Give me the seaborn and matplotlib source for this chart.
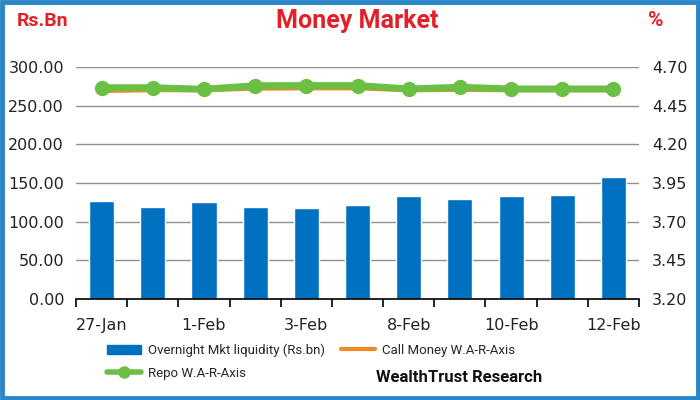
import matplotlib
matplotlib.use("Agg")
import matplotlib.pyplot as plt
import matplotlib.patches as mpatches
from matplotlib.lines import Line2D
from matplotlib.ticker import FixedLocator, NullFormatter
import numpy as np
import pandas as pd
import seaborn as sns

dates = ["27-Jan", "28-Jan", "1-Feb", "2-Feb", "3-Feb", "5-Feb",
         "8-Feb", "9-Feb", "10-Feb", "11-Feb", "12-Feb"]
liquidity = [126.8, 119.4, 125.0, 119.4, 117.3, 121.6, 133.0, 129.4, 133.0, 135.0, 158.0]
call_money = [4.545, 4.550, 4.550, 4.560, 4.562, 4.562, 4.550, 4.552, 4.550, 4.550, 4.550]
repo = [4.566, 4.566, 4.556, 4.579, 4.580, 4.580, 4.558, 4.569, 4.558, 4.558, 4.558]
left_ticks = [0, 50, 100, 150, 200, 250, 300]
right_ticks = [3.20, 3.45, 3.70, 3.95, 4.20, 4.45, 4.70]

BLUE = "#0070C0"
GREEN = "#6CBF45"
ORANGE = "#F08A24"
RED = "#E3202A"
narrow = ["Roboto", "DejaVu Sans"]

sns.set_theme(style="white")
plt.rcParams["font.family"] = ["DejaVu Sans"]

df = pd.DataFrame({"date": dates, "liq": liquidity, "call": call_money,
                   "repo": repo, "pos": np.arange(len(dates))})

fig = plt.figure(figsize=(7, 4), dpi=100)
ax = fig.add_axes([0.1086, 0.2525, 0.8043, 0.58])

sns.barplot(data=df, x="date", y="liq", color=BLUE, width=0.49,
            saturation=1, ax=ax, zorder=3)
ax.set_xlim(-0.5, len(dates) - 0.5)
ax.set_ylim(0, 300)
ax.set_yticks(left_ticks)
ax.set_yticklabels([f"{v:.2f}" for v in left_ticks], fontsize=11.5, color="#222222")
ax.yaxis.grid(True, color="#8f8f8f", linewidth=1.0, zorder=0)
ax.set_axisbelow(True)
ax.set_xlabel("")
ax.set_ylabel("")
for s in ["top", "left", "right"]:
    ax.spines[s].set_visible(False)
ax.spines["bottom"].set_color("black")
ax.spines["bottom"].set_linewidth(1.2)
ax.spines["bottom"].set_zorder(5)

major = list(range(0, len(dates), 2))
ax.set_xticks(major)
ax.set_xticklabels([dates[i] for i in major], fontsize=11.5, color="#222222")
ax.tick_params(axis="x", which="major", length=0, pad=14)
ax.xaxis.set_minor_locator(FixedLocator(np.arange(-0.5, len(dates), 1.0)))
ax.xaxis.set_minor_formatter(NullFormatter())
ax.tick_params(axis="x", which="minor", length=6, width=1.2, color="black",
               direction="out", bottom=True)
ax.tick_params(axis="y", length=0, pad=8.6)

ax2 = ax.twinx()
sns.lineplot(data=df, x="pos", y="call", color=ORANGE, linewidth=3, ax=ax2,
             zorder=4)
sns.lineplot(data=df, x="pos", y="repo", color=GREEN, linewidth=5, marker="o",
             markersize=11, markeredgewidth=0, ax=ax2, zorder=5)
ax2.set_ylim(3.20, 4.70)
ax2.set_yticks(right_ticks)
ax2.set_yticklabels([f"{v:.2f}" for v in right_ticks], fontsize=11.5, color="#222222")
ax2.tick_params(axis="y", length=0, pad=9.4)
ax2.set_xlim(-0.5, len(dates) - 0.5)
ax2.set_xlabel("")
ax2.set_ylabel("")
ax2.grid(False)
for s in ["top", "left", "right", "bottom"]:
    ax2.spines[s].set_visible(False)

fig.text(0.51, 0.948, "Money Market", ha="center", va="center", color=RED,
         fontsize=18, fontweight="bold", family=narrow)
fig.text(0.024, 0.948, "Rs.Bn", ha="left", va="center", color=RED,
         fontsize=14, fontweight="bold", family=narrow)
fig.text(0.937, 0.948, "%", ha="center", va="center", color=RED,
         fontsize=15, fontweight="bold", family=narrow)

handles = [
    mpatches.Patch(color=BLUE, label="Overnight Mkt liquidity (Rs.bn)"),
    Line2D([], [], color=GREEN, linewidth=4, marker="o", markersize=8,
           label="Repo W.A-R-Axis"),
    Line2D([], [], color=ORANGE, linewidth=3, label="Call Money W.A-R-Axis"),
]
fig.legend(handles=handles, ncol=2, loc="upper left",
           bbox_to_anchor=(0.153, 0.141), frameon=False,
           prop={"family": narrow, "size": 9.5}, handlelength=2.6,
           handletextpad=0.5, columnspacing=1.2, labelspacing=0.75,
           borderaxespad=0, borderpad=0)
fig.text(0.537, 0.056, "WealthTrust Research", ha="left", va="center",
         color="#111111", fontsize=12, fontweight="bold", family=narrow)

border = mpatches.Rectangle((0.003, 0.004), 0.994, 0.992, transform=fig.transFigure,
                            fill=False, edgecolor="#2A86C8", linewidth=3.5)
fig.patches.append(border)

fig.savefig("out.png", dpi=100, facecolor="white")
